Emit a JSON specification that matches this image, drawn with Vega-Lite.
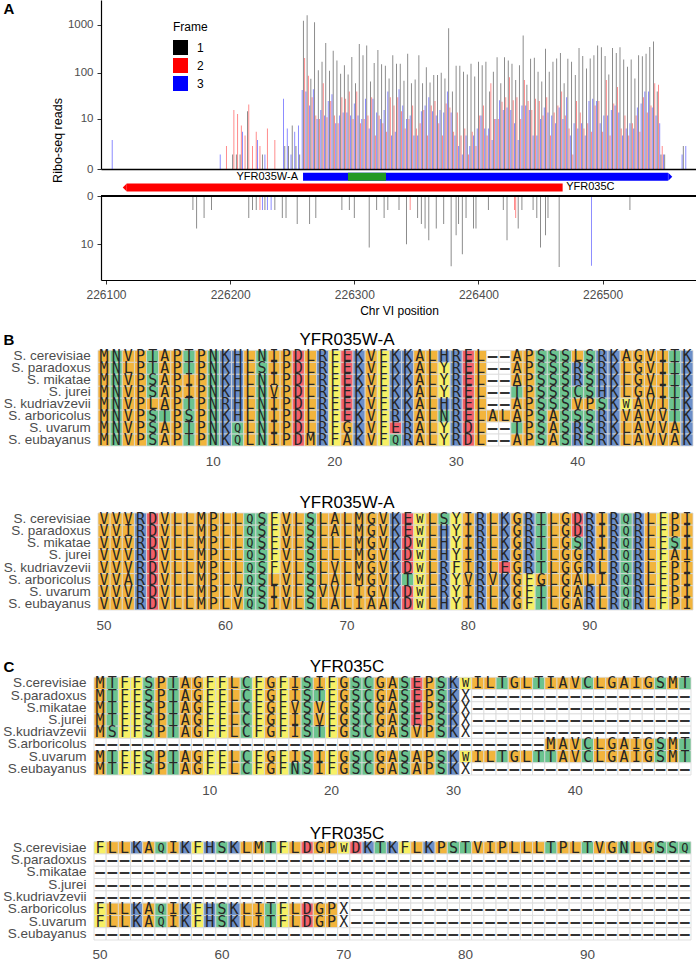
{
"$schema": "https://vega.github.io/schema/vega-lite/v6.json",
"padding": {"left": 2, "top": 0, "right": 0, "bottom": 0},
"background": "white",
"bounds": "flush",
"spacing": 0,
"resolve": {"scale": {"color": "independent", "fill": "independent", "shape": "independent", "size": "independent"}, "legend": {"color": "independent"}},
"config": {"view": {"stroke": null}, "font": "Liberation Sans", "axis": {"grid": false, "labelFont": "Liberation Sans", "titleFont": "Liberation Sans", "titleFontWeight": "normal"}},
"data": {"values": "g,s,p,a\n1,1,1,M\n1,1,2,N\n1,1,3,V\n1,1,4,P\n1,1,5,T\n1,1,6,A\n1,1,7,P\n1,1,8,T\n1,1,9,P\n1,1,10,N\n1,1,11,K\n1,1,12,H\n1,1,13,L\n1,1,14,N\n1,1,15,I\n1,1,16,P\n1,1,17,D\n1,1,18,L\n1,1,19,R\n1,1,20,F\n1,1,21,E\n1,1,22,K\n1,1,23,V\n1,1,24,F\n1,1,25,K\n1,1,26,K\n1,1,27,A\n1,1,28,L\n1,1,29,H\n1,1,30,R\n1,1,31,E\n1,1,32,L\n1,1,33,-\n1,1,34,-\n1,1,35,A\n1,1,36,P\n1,1,37,S\n1,1,38,S\n1,1,39,S\n1,1,40,L\n1,1,41,S\n1,1,42,R\n1,1,43,K\n1,1,44,A\n1,1,45,G\n1,1,46,V\n1,1,47,I\n1,1,48,T\n1,1,49,K\n1,2,1,M\n1,2,2,N\n1,2,3,L\n1,2,4,P\n1,2,5,T\n1,2,6,A\n1,2,7,P\n1,2,8,T\n1,2,9,P\n1,2,10,N\n1,2,11,K\n1,2,12,H\n1,2,13,L\n1,2,14,S\n1,2,15,I\n1,2,16,P\n1,2,17,D\n1,2,18,L\n1,2,19,R\n1,2,20,F\n1,2,21,E\n1,2,22,K\n1,2,23,V\n1,2,24,F\n1,2,25,K\n1,2,26,K\n1,2,27,A\n1,2,28,L\n1,2,29,Y\n1,2,30,R\n1,2,31,E\n1,2,32,L\n1,2,33,-\n1,2,34,-\n1,2,35,A\n1,2,36,P\n1,2,37,S\n1,2,38,S\n1,2,39,S\n1,2,40,R\n1,2,41,S\n1,2,42,R\n1,2,43,K\n1,2,44,L\n1,2,45,G\n1,2,46,V\n1,2,47,I\n1,2,48,T\n1,2,49,K\n1,3,1,M\n1,3,2,N\n1,3,3,V\n1,3,4,P\n1,3,5,S\n1,3,6,A\n1,3,7,P\n1,3,8,I\n1,3,9,P\n1,3,10,N\n1,3,11,K\n1,3,12,H\n1,3,13,L\n1,3,14,N\n1,3,15,I\n1,3,16,P\n1,3,17,D\n1,3,18,L\n1,3,19,R\n1,3,20,F\n1,3,21,E\n1,3,22,K\n1,3,23,V\n1,3,24,F\n1,3,25,K\n1,3,26,K\n1,3,27,A\n1,3,28,L\n1,3,29,Y\n1,3,30,R\n1,3,31,E\n1,3,32,L\n1,3,33,-\n1,3,34,-\n1,3,35,A\n1,3,36,P\n1,3,37,S\n1,3,38,S\n1,3,39,S\n1,3,40,R\n1,3,41,S\n1,3,42,R\n1,3,43,K\n1,3,44,L\n1,3,45,G\n1,3,46,V\n1,3,47,I\n1,3,48,T\n1,3,49,K\n1,4,1,M\n1,4,2,N\n1,4,3,V\n1,4,4,P\n1,4,5,S\n1,4,6,A\n1,4,7,P\n1,4,8,I\n1,4,9,P\n1,4,10,N\n1,4,11,K\n1,4,12,H\n1,4,13,L\n1,4,14,N\n1,4,15,V\n1,4,16,P\n1,4,17,D\n1,4,18,L\n1,4,19,R\n1,4,20,F\n1,4,21,E\n1,4,22,K\n1,4,23,V\n1,4,24,F\n1,4,25,K\n1,4,26,K\n1,4,27,A\n1,4,28,L\n1,4,29,Y\n1,4,30,R\n1,4,31,E\n1,4,32,L\n1,4,33,-\n1,4,34,-\n1,4,35,T\n1,4,36,P\n1,4,37,S\n1,4,38,S\n1,4,39,S\n1,4,40,C\n1,4,41,S\n1,4,42,H\n1,4,43,K\n1,4,44,L\n1,4,45,G\n1,4,46,A\n1,4,47,I\n1,4,48,T\n1,4,49,K\n1,5,1,M\n1,5,2,N\n1,5,3,V\n1,5,4,P\n1,5,5,L\n1,5,6,A\n1,5,7,P\n1,5,8,T\n1,5,9,P\n1,5,10,N\n1,5,11,R\n1,5,12,H\n1,5,13,L\n1,5,14,N\n1,5,15,I\n1,5,16,P\n1,5,17,D\n1,5,18,L\n1,5,19,R\n1,5,20,F\n1,5,21,E\n1,5,22,K\n1,5,23,V\n1,5,24,F\n1,5,25,K\n1,5,26,K\n1,5,27,A\n1,5,28,L\n1,5,29,H\n1,5,30,R\n1,5,31,E\n1,5,32,L\n1,5,33,-\n1,5,34,-\n1,5,35,A\n1,5,36,P\n1,5,37,S\n1,5,38,S\n1,5,39,S\n1,5,40,V\n1,5,41,P\n1,5,42,S\n1,5,43,K\n1,5,44,W\n1,5,45,A\n1,5,46,V\n1,5,47,I\n1,5,48,T\n1,5,49,K\n1,6,1,M\n1,6,2,N\n1,6,3,V\n1,6,4,P\n1,6,5,S\n1,6,6,T\n1,6,7,P\n1,6,8,S\n1,6,9,P\n1,6,10,N\n1,6,11,K\n1,6,12,H\n1,6,13,L\n1,6,14,N\n1,6,15,I\n1,6,16,P\n1,6,17,D\n1,6,18,L\n1,6,19,R\n1,6,20,F\n1,6,21,E\n1,6,22,K\n1,6,23,V\n1,6,24,F\n1,6,25,R\n1,6,26,K\n1,6,27,A\n1,6,28,L\n1,6,29,N\n1,6,30,R\n1,6,31,E\n1,6,32,L\n1,6,33,A\n1,6,34,L\n1,6,35,A\n1,6,36,P\n1,6,37,S\n1,6,38,A\n1,6,39,S\n1,6,40,S\n1,6,41,S\n1,6,42,R\n1,6,43,K\n1,6,44,V\n1,6,45,A\n1,6,46,V\n1,6,47,V\n1,6,48,T\n1,6,49,K\n1,7,1,M\n1,7,2,N\n1,7,3,V\n1,7,4,P\n1,7,5,S\n1,7,6,A\n1,7,7,P\n1,7,8,T\n1,7,9,P\n1,7,10,N\n1,7,11,K\n1,7,12,Q\n1,7,13,L\n1,7,14,N\n1,7,15,I\n1,7,16,P\n1,7,17,D\n1,7,18,L\n1,7,19,R\n1,7,20,F\n1,7,21,G\n1,7,22,K\n1,7,23,V\n1,7,24,F\n1,7,25,E\n1,7,26,R\n1,7,27,A\n1,7,28,L\n1,7,29,Y\n1,7,30,R\n1,7,31,D\n1,7,32,L\n1,7,33,-\n1,7,34,-\n1,7,35,T\n1,7,36,P\n1,7,37,S\n1,7,38,A\n1,7,39,S\n1,7,40,R\n1,7,41,S\n1,7,42,R\n1,7,43,K\n1,7,44,L\n1,7,45,A\n1,7,46,V\n1,7,47,V\n1,7,48,A\n1,7,49,K\n1,8,1,M\n1,8,2,N\n1,8,3,V\n1,8,4,P\n1,8,5,S\n1,8,6,A\n1,8,7,P\n1,8,8,T\n1,8,9,P\n1,8,10,N\n1,8,11,K\n1,8,12,Q\n1,8,13,L\n1,8,14,N\n1,8,15,I\n1,8,16,P\n1,8,17,D\n1,8,18,M\n1,8,19,R\n1,8,20,F\n1,8,21,A\n1,8,22,K\n1,8,23,V\n1,8,24,F\n1,8,25,Q\n1,8,26,R\n1,8,27,A\n1,8,28,L\n1,8,29,Y\n1,8,30,R\n1,8,31,D\n1,8,32,L\n1,8,33,-\n1,8,34,-\n1,8,35,A\n1,8,36,P\n1,8,37,S\n1,8,38,A\n1,8,39,S\n1,8,40,R\n1,8,41,S\n1,8,42,R\n1,8,43,K\n1,8,44,L\n1,8,45,A\n1,8,46,V\n1,8,47,V\n1,8,48,A\n1,8,49,K\n2,1,50,V\n2,1,51,V\n2,1,52,V\n2,1,53,R\n2,1,54,D\n2,1,55,V\n2,1,56,L\n2,1,57,L\n2,1,58,M\n2,1,59,P\n2,1,60,L\n2,1,61,L\n2,1,62,Q\n2,1,63,S\n2,1,64,F\n2,1,65,V\n2,1,66,L\n2,1,67,S\n2,1,68,L\n2,1,69,A\n2,1,70,L\n2,1,71,M\n2,1,72,G\n2,1,73,V\n2,1,74,K\n2,1,75,E\n2,1,76,W\n2,1,77,L\n2,1,78,S\n2,1,79,Y\n2,1,80,I\n2,1,81,R\n2,1,82,L\n2,1,83,K\n2,1,84,G\n2,1,85,R\n2,1,86,T\n2,1,87,L\n2,1,88,G\n2,1,89,D\n2,1,90,R\n2,1,91,I\n2,1,92,R\n2,1,93,Q\n2,1,94,R\n2,1,95,L\n2,1,96,F\n2,1,97,P\n2,1,98,I\n2,2,50,V\n2,2,51,V\n2,2,52,I\n2,2,53,R\n2,2,54,D\n2,2,55,V\n2,2,56,L\n2,2,57,L\n2,2,58,M\n2,2,59,P\n2,2,60,L\n2,2,61,L\n2,2,62,Q\n2,2,63,S\n2,2,64,F\n2,2,65,V\n2,2,66,L\n2,2,67,S\n2,2,68,L\n2,2,69,A\n2,2,70,L\n2,2,71,M\n2,2,72,G\n2,2,73,V\n2,2,74,K\n2,2,75,E\n2,2,76,W\n2,2,77,L\n2,2,78,H\n2,2,79,Y\n2,2,80,I\n2,2,81,R\n2,2,82,L\n2,2,83,K\n2,2,84,G\n2,2,85,R\n2,2,86,T\n2,2,87,L\n2,2,88,G\n2,2,89,D\n2,2,90,R\n2,2,91,I\n2,2,92,R\n2,2,93,Q\n2,2,94,R\n2,2,95,L\n2,2,96,F\n2,2,97,P\n2,2,98,I\n2,3,50,V\n2,3,51,V\n2,3,52,V\n2,3,53,R\n2,3,54,D\n2,3,55,V\n2,3,56,L\n2,3,57,L\n2,3,58,M\n2,3,59,P\n2,3,60,L\n2,3,61,L\n2,3,62,Q\n2,3,63,S\n2,3,64,F\n2,3,65,V\n2,3,66,L\n2,3,67,S\n2,3,68,L\n2,3,69,L\n2,3,70,L\n2,3,71,M\n2,3,72,G\n2,3,73,V\n2,3,74,K\n2,3,75,D\n2,3,76,W\n2,3,77,L\n2,3,78,H\n2,3,79,Y\n2,3,80,I\n2,3,81,R\n2,3,82,L\n2,3,83,K\n2,3,84,G\n2,3,85,R\n2,3,86,T\n2,3,87,L\n2,3,88,G\n2,3,89,S\n2,3,90,R\n2,3,91,I\n2,3,92,R\n2,3,93,Q\n2,3,94,R\n2,3,95,L\n2,3,96,F\n2,3,97,S\n2,3,98,I\n2,4,50,V\n2,4,51,V\n2,4,52,V\n2,4,53,R\n2,4,54,D\n2,4,55,V\n2,4,56,L\n2,4,57,L\n2,4,58,M\n2,4,59,P\n2,4,60,L\n2,4,61,L\n2,4,62,Q\n2,4,63,S\n2,4,64,F\n2,4,65,V\n2,4,66,L\n2,4,67,S\n2,4,68,L\n2,4,69,L\n2,4,70,L\n2,4,71,M\n2,4,72,G\n2,4,73,V\n2,4,74,K\n2,4,75,D\n2,4,76,W\n2,4,77,L\n2,4,78,H\n2,4,79,Y\n2,4,80,I\n2,4,81,R\n2,4,82,L\n2,4,83,K\n2,4,84,G\n2,4,85,R\n2,4,86,T\n2,4,87,L\n2,4,88,G\n2,4,89,G\n2,4,90,R\n2,4,91,I\n2,4,92,R\n2,4,93,Q\n2,4,94,R\n2,4,95,L\n2,4,96,F\n2,4,97,A\n2,4,98,I\n2,5,50,V\n2,5,51,V\n2,5,52,V\n2,5,53,R\n2,5,54,D\n2,5,55,V\n2,5,56,L\n2,5,57,L\n2,5,58,M\n2,5,59,P\n2,5,60,L\n2,5,61,L\n2,5,62,Q\n2,5,63,S\n2,5,64,F\n2,5,65,V\n2,5,66,L\n2,5,67,S\n2,5,68,L\n2,5,69,V\n2,5,70,L\n2,5,71,M\n2,5,72,G\n2,5,73,V\n2,5,74,K\n2,5,75,D\n2,5,76,W\n2,5,77,L\n2,5,78,R\n2,5,79,F\n2,5,80,I\n2,5,81,R\n2,5,82,L\n2,5,83,E\n2,5,84,G\n2,5,85,R\n2,5,86,T\n2,5,87,L\n2,5,88,G\n2,5,89,G\n2,5,90,R\n2,5,91,L\n2,5,92,R\n2,5,93,Q\n2,5,94,R\n2,5,95,L\n2,5,96,F\n2,5,97,P\n2,5,98,I\n2,6,50,V\n2,6,51,V\n2,6,52,A\n2,6,53,R\n2,6,54,D\n2,6,55,V\n2,6,56,L\n2,6,57,L\n2,6,58,M\n2,6,59,P\n2,6,60,L\n2,6,61,L\n2,6,62,Q\n2,6,63,S\n2,6,64,L\n2,6,65,V\n2,6,66,L\n2,6,67,S\n2,6,68,L\n2,6,69,A\n2,6,70,L\n2,6,71,M\n2,6,72,G\n2,6,73,V\n2,6,74,K\n2,6,75,T\n2,6,76,W\n2,6,77,L\n2,6,78,R\n2,6,79,Y\n2,6,80,V\n2,6,81,R\n2,6,82,V\n2,6,83,K\n2,6,84,G\n2,6,85,F\n2,6,86,G\n2,6,87,L\n2,6,88,G\n2,6,89,A\n2,6,90,L\n2,6,91,I\n2,6,92,R\n2,6,93,Q\n2,6,94,R\n2,6,95,L\n2,6,96,F\n2,6,97,P\n2,6,98,I\n2,7,50,V\n2,7,51,V\n2,7,52,V\n2,7,53,R\n2,7,54,D\n2,7,55,V\n2,7,56,L\n2,7,57,L\n2,7,58,M\n2,7,59,P\n2,7,60,L\n2,7,61,V\n2,7,62,Q\n2,7,63,S\n2,7,64,I\n2,7,65,V\n2,7,66,L\n2,7,67,S\n2,7,68,V\n2,7,69,V\n2,7,70,L\n2,7,71,I\n2,7,72,G\n2,7,73,V\n2,7,74,K\n2,7,75,D\n2,7,76,W\n2,7,77,L\n2,7,78,R\n2,7,79,Y\n2,7,80,I\n2,7,81,R\n2,7,82,L\n2,7,83,K\n2,7,84,G\n2,7,85,F\n2,7,86,T\n2,7,87,L\n2,7,88,G\n2,7,89,A\n2,7,90,R\n2,7,91,L\n2,7,92,R\n2,7,93,Q\n2,7,94,R\n2,7,95,L\n2,7,96,F\n2,7,97,P\n2,7,98,I\n2,8,50,V\n2,8,51,V\n2,8,52,V\n2,8,53,R\n2,8,54,D\n2,8,55,V\n2,8,56,L\n2,8,57,L\n2,8,58,M\n2,8,59,P\n2,8,60,L\n2,8,61,V\n2,8,62,Q\n2,8,63,S\n2,8,64,I\n2,8,65,V\n2,8,66,L\n2,8,67,S\n2,8,68,L\n2,8,69,A\n2,8,70,L\n2,8,71,I\n2,8,72,A\n2,8,73,A\n2,8,74,K\n2,8,75,D\n2,8,76,W\n2,8,77,L\n2,8,78,H\n2,8,79,Y\n2,8,80,I\n2,8,81,R\n2,8,82,L\n2,8,83,K\n2,8,84,G\n2,8,85,F\n2,8,86,T\n2,8,87,L\n2,8,88,G\n2,8,89,A\n2,8,90,R\n2,8,91,L\n2,8,92,R\n2,8,93,Q\n2,8,94,R\n2,8,95,L\n2,8,96,F\n2,8,97,P\n2,8,98,I\n3,1,1,M\n3,1,2,T\n3,1,3,F\n3,1,4,F\n3,1,5,S\n3,1,6,P\n3,1,7,T\n3,1,8,A\n3,1,9,G\n3,1,10,F\n3,1,11,F\n3,1,12,L\n3,1,13,C\n3,1,14,F\n3,1,15,G\n3,1,16,F\n3,1,17,I\n3,1,18,S\n3,1,19,I\n3,1,20,F\n3,1,21,G\n3,1,22,S\n3,1,23,C\n3,1,24,G\n3,1,25,A\n3,1,26,S\n3,1,27,E\n3,1,28,P\n3,1,29,S\n3,1,30,K\n3,1,31,W\n3,1,32,I\n3,1,33,L\n3,1,34,T\n3,1,35,G\n3,1,36,L\n3,1,37,T\n3,1,38,I\n3,1,39,A\n3,1,40,V\n3,1,41,C\n3,1,42,L\n3,1,43,G\n3,1,44,A\n3,1,45,I\n3,1,46,G\n3,1,47,S\n3,1,48,M\n3,1,49,T\n3,2,1,M\n3,2,2,T\n3,2,3,F\n3,2,4,F\n3,2,5,S\n3,2,6,P\n3,2,7,T\n3,2,8,A\n3,2,9,G\n3,2,10,F\n3,2,11,F\n3,2,12,L\n3,2,13,C\n3,2,14,F\n3,2,15,G\n3,2,16,F\n3,2,17,I\n3,2,18,S\n3,2,19,T\n3,2,20,F\n3,2,21,G\n3,2,22,S\n3,2,23,C\n3,2,24,G\n3,2,25,A\n3,2,26,S\n3,2,27,E\n3,2,28,P\n3,2,29,S\n3,2,30,K\n3,2,31,X\n3,2,32,-\n3,2,33,-\n3,2,34,-\n3,2,35,-\n3,2,36,-\n3,2,37,-\n3,2,38,-\n3,2,39,-\n3,2,40,-\n3,2,41,-\n3,2,42,-\n3,2,43,-\n3,2,44,-\n3,2,45,-\n3,2,46,-\n3,2,47,-\n3,2,48,-\n3,2,49,-\n3,3,1,M\n3,3,2,T\n3,3,3,F\n3,3,4,F\n3,3,5,S\n3,3,6,P\n3,3,7,T\n3,3,8,A\n3,3,9,G\n3,3,10,F\n3,3,11,F\n3,3,12,L\n3,3,13,C\n3,3,14,F\n3,3,15,G\n3,3,16,F\n3,3,17,V\n3,3,18,S\n3,3,19,V\n3,3,20,F\n3,3,21,G\n3,3,22,S\n3,3,23,C\n3,3,24,G\n3,3,25,A\n3,3,26,S\n3,3,27,E\n3,3,28,P\n3,3,29,S\n3,3,30,K\n3,3,31,X\n3,3,32,-\n3,3,33,-\n3,3,34,-\n3,3,35,-\n3,3,36,-\n3,3,37,-\n3,3,38,-\n3,3,39,-\n3,3,40,-\n3,3,41,-\n3,3,42,-\n3,3,43,-\n3,3,44,-\n3,3,45,-\n3,3,46,-\n3,3,47,-\n3,3,48,-\n3,3,49,-\n3,4,1,M\n3,4,2,T\n3,4,3,F\n3,4,4,F\n3,4,5,S\n3,4,6,P\n3,4,7,T\n3,4,8,A\n3,4,9,G\n3,4,10,F\n3,4,11,F\n3,4,12,L\n3,4,13,C\n3,4,14,F\n3,4,15,G\n3,4,16,F\n3,4,17,I\n3,4,18,S\n3,4,19,V\n3,4,20,F\n3,4,21,G\n3,4,22,S\n3,4,23,C\n3,4,24,G\n3,4,25,A\n3,4,26,S\n3,4,27,E\n3,4,28,P\n3,4,29,S\n3,4,30,K\n3,4,31,X\n3,4,32,-\n3,4,33,-\n3,4,34,-\n3,4,35,-\n3,4,36,-\n3,4,37,-\n3,4,38,-\n3,4,39,-\n3,4,40,-\n3,4,41,-\n3,4,42,-\n3,4,43,-\n3,4,44,-\n3,4,45,-\n3,4,46,-\n3,4,47,-\n3,4,48,-\n3,4,49,-\n3,5,1,M\n3,5,2,S\n3,5,3,F\n3,5,4,F\n3,5,5,S\n3,5,6,P\n3,5,7,T\n3,5,8,A\n3,5,9,G\n3,5,10,F\n3,5,11,F\n3,5,12,L\n3,5,13,C\n3,5,14,F\n3,5,15,G\n3,5,16,F\n3,5,17,I\n3,5,18,S\n3,5,19,T\n3,5,20,F\n3,5,21,G\n3,5,22,S\n3,5,23,C\n3,5,24,G\n3,5,25,A\n3,5,26,S\n3,5,27,V\n3,5,28,P\n3,5,29,S\n3,5,30,K\n3,5,31,X\n3,5,32,-\n3,5,33,-\n3,5,34,-\n3,5,35,-\n3,5,36,-\n3,5,37,-\n3,5,38,-\n3,5,39,-\n3,5,40,-\n3,5,41,-\n3,5,42,-\n3,5,43,-\n3,5,44,-\n3,5,45,-\n3,5,46,-\n3,5,47,-\n3,5,48,-\n3,5,49,-\n3,6,1,-\n3,6,2,-\n3,6,3,-\n3,6,4,-\n3,6,5,-\n3,6,6,-\n3,6,7,-\n3,6,8,-\n3,6,9,-\n3,6,10,-\n3,6,11,-\n3,6,12,-\n3,6,13,-\n3,6,14,-\n3,6,15,-\n3,6,16,-\n3,6,17,-\n3,6,18,-\n3,6,19,-\n3,6,20,-\n3,6,21,-\n3,6,22,-\n3,6,23,-\n3,6,24,-\n3,6,25,-\n3,6,26,-\n3,6,27,-\n3,6,28,-\n3,6,29,-\n3,6,30,-\n3,6,31,-\n3,6,32,-\n3,6,33,-\n3,6,34,-\n3,6,35,-\n3,6,36,-\n3,6,37,-\n3,6,38,M\n3,6,39,A\n3,6,40,V\n3,6,41,C\n3,6,42,L\n3,6,43,G\n3,6,44,A\n3,6,45,I\n3,6,46,G\n3,6,47,S\n3,6,48,M\n3,6,49,T\n3,7,1,M\n3,7,2,T\n3,7,3,F\n3,7,4,F\n3,7,5,S\n3,7,6,P\n3,7,7,T\n3,7,8,A\n3,7,9,G\n3,7,10,F\n3,7,11,F\n3,7,12,L\n3,7,13,C\n3,7,14,F\n3,7,15,G\n3,7,16,F\n3,7,17,I\n3,7,18,S\n3,7,19,I\n3,7,20,F\n3,7,21,G\n3,7,22,S\n3,7,23,C\n3,7,24,G\n3,7,25,A\n3,7,26,S\n3,7,27,A\n3,7,28,P\n3,7,29,S\n3,7,30,K\n3,7,31,W\n3,7,32,I\n3,7,33,L\n3,7,34,T\n3,7,35,G\n3,7,36,L\n3,7,37,T\n3,7,38,T\n3,7,39,A\n3,7,40,V\n3,7,41,C\n3,7,42,L\n3,7,43,G\n3,7,44,A\n3,7,45,I\n3,7,46,G\n3,7,47,S\n3,7,48,M\n3,7,49,T\n3,8,1,M\n3,8,2,T\n3,8,3,F\n3,8,4,F\n3,8,5,S\n3,8,6,P\n3,8,7,T\n3,8,8,A\n3,8,9,G\n3,8,10,F\n3,8,11,F\n3,8,12,L\n3,8,13,C\n3,8,14,F\n3,8,15,G\n3,8,16,F\n3,8,17,N\n3,8,18,S\n3,8,19,I\n3,8,20,F\n3,8,21,G\n3,8,22,S\n3,8,23,C\n3,8,24,G\n3,8,25,A\n3,8,26,S\n3,8,27,A\n3,8,28,P\n3,8,29,S\n3,8,30,K\n3,8,31,X\n3,8,32,-\n3,8,33,-\n3,8,34,-\n3,8,35,-\n3,8,36,-\n3,8,37,-\n3,8,38,-\n3,8,39,-\n3,8,40,-\n3,8,41,-\n3,8,42,-\n3,8,43,-\n3,8,44,-\n3,8,45,-\n3,8,46,-\n3,8,47,-\n3,8,48,-\n3,8,49,-\n4,1,50,F\n4,1,51,L\n4,1,52,L\n4,1,53,K\n4,1,54,A\n4,1,55,Q\n4,1,56,I\n4,1,57,K\n4,1,58,F\n4,1,59,H\n4,1,60,S\n4,1,61,K\n4,1,62,L\n4,1,63,M\n4,1,64,T\n4,1,65,F\n4,1,66,L\n4,1,67,D\n4,1,68,G\n4,1,69,P\n4,1,70,W\n4,1,71,D\n4,1,72,K\n4,1,73,T\n4,1,74,K\n4,1,75,F\n4,1,76,L\n4,1,77,K\n4,1,78,P\n4,1,79,S\n4,1,80,T\n4,1,81,V\n4,1,82,I\n4,1,83,P\n4,1,84,L\n4,1,85,L\n4,1,86,L\n4,1,87,T\n4,1,88,P\n4,1,89,L\n4,1,90,T\n4,1,91,V\n4,1,92,G\n4,1,93,N\n4,1,94,L\n4,1,95,G\n4,1,96,S\n4,1,97,S\n4,1,98,Q\n4,2,50,-\n4,2,51,-\n4,2,52,-\n4,2,53,-\n4,2,54,-\n4,2,55,-\n4,2,56,-\n4,2,57,-\n4,2,58,-\n4,2,59,-\n4,2,60,-\n4,2,61,-\n4,2,62,-\n4,2,63,-\n4,2,64,-\n4,2,65,-\n4,2,66,-\n4,2,67,-\n4,2,68,-\n4,2,69,-\n4,2,70,-\n4,2,71,-\n4,2,72,-\n4,2,73,-\n4,2,74,-\n4,2,75,-\n4,2,76,-\n4,2,77,-\n4,2,78,-\n4,2,79,-\n4,2,80,-\n4,2,81,-\n4,2,82,-\n4,2,83,-\n4,2,84,-\n4,2,85,-\n4,2,86,-\n4,2,87,-\n4,2,88,-\n4,2,89,-\n4,2,90,-\n4,2,91,-\n4,2,92,-\n4,2,93,-\n4,2,94,-\n4,2,95,-\n4,2,96,-\n4,2,97,-\n4,2,98,-\n4,3,50,-\n4,3,51,-\n4,3,52,-\n4,3,53,-\n4,3,54,-\n4,3,55,-\n4,3,56,-\n4,3,57,-\n4,3,58,-\n4,3,59,-\n4,3,60,-\n4,3,61,-\n4,3,62,-\n4,3,63,-\n4,3,64,-\n4,3,65,-\n4,3,66,-\n4,3,67,-\n4,3,68,-\n4,3,69,-\n4,3,70,-\n4,3,71,-\n4,3,72,-\n4,3,73,-\n4,3,74,-\n4,3,75,-\n4,3,76,-\n4,3,77,-\n4,3,78,-\n4,3,79,-\n4,3,80,-\n4,3,81,-\n4,3,82,-\n4,3,83,-\n4,3,84,-\n4,3,85,-\n4,3,86,-\n4,3,87,-\n4,3,88,-\n4,3,89,-\n4,3,90,-\n4,3,91,-\n4,3,92,-\n4,3,93,-\n4,3,94,-\n4,3,95,-\n4,3,96,-\n4,3,97,-\n4,3,98,-\n4,4,50,-\n4,4,51,-\n4,4,52,-\n4,4,53,-\n4,4,54,-\n4,4,55,-\n4,4,56,-\n4,4,57,-\n4,4,58,-\n4,4,59,-\n4,4,60,-\n4,4,61,-\n4,4,62,-\n4,4,63,-\n4,4,64,-\n4,4,65,-\n4,4,66,-\n4,4,67,-\n4,4,68,-\n4,4,69,-\n4,4,70,-\n4,4,71,-\n4,4,72,-\n4,4,73,-\n4,4,74,-\n4,4,75,-\n4,4,76,-\n4,4,77,-\n4,4,78,-\n4,4,79,-\n4,4,80,-\n4,4,81,-\n4,4,82,-\n4,4,83,-\n4,4,84,-\n4,4,85,-\n4,4,86,-\n4,4,87,-\n4,4,88,-\n4,4,89,-\n4,4,90,-\n4,4,91,-\n4,4,92,-\n4,4,93,-\n4,4,94,-\n4,4,95,-\n4,4,96,-\n4,4,97,-\n4,4,98,-\n4,5,50,-\n4,5,51,-\n4,5,52,-\n4,5,53,-\n4,5,54,-\n4,5,55,-\n4,5,56,-\n4,5,57,-\n4,5,58,-\n4,5,59,-\n4,5,60,-\n4,5,61,-\n4,5,62,-\n4,5,63,-\n4,5,64,-\n4,5,65,-\n4,5,66,-\n4,5,67,-\n4,5,68,-\n4,5,69,-\n4,5,70,-\n4,5,71,-\n4,5,72,-\n4,5,73,-\n4,5,74,-\n4,5,75,-\n4,5,76,-\n4,5,77,-\n4,5,78,-\n4,5,79,-\n4,5,80,-\n4,5,81,-\n4,5,82,-\n4,5,83,-\n4,5,84,-\n4,5,85,-\n4,5,86,-\n4,5,87,-\n4,5,88,-\n4,5,89,-\n4,5,90,-\n4,5,91,-\n4,5,92,-\n4,5,93,-\n4,5,94,-\n4,5,95,-\n4,5,96,-\n4,5,97,-\n4,5,98,-\n4,6,50,F\n4,6,51,L\n4,6,52,L\n4,6,53,K\n4,6,54,A\n4,6,55,Q\n4,6,56,I\n4,6,57,K\n4,6,58,F\n4,6,59,H\n4,6,60,S\n4,6,61,K\n4,6,62,L\n4,6,63,I\n4,6,64,T\n4,6,65,F\n4,6,66,L\n4,6,67,D\n4,6,68,G\n4,6,69,P\n4,6,70,X\n4,6,71,-\n4,6,72,-\n4,6,73,-\n4,6,74,-\n4,6,75,-\n4,6,76,-\n4,6,77,-\n4,6,78,-\n4,6,79,-\n4,6,80,-\n4,6,81,-\n4,6,82,-\n4,6,83,-\n4,6,84,-\n4,6,85,-\n4,6,86,-\n4,6,87,-\n4,6,88,-\n4,6,89,-\n4,6,90,-\n4,6,91,-\n4,6,92,-\n4,6,93,-\n4,6,94,-\n4,6,95,-\n4,6,96,-\n4,6,97,-\n4,6,98,-\n4,7,50,F\n4,7,51,L\n4,7,52,L\n4,7,53,K\n4,7,54,A\n4,7,55,Q\n4,7,56,I\n4,7,57,K\n4,7,58,F\n4,7,59,H\n4,7,60,S\n4,7,61,K\n4,7,62,L\n4,7,63,I\n4,7,64,T\n4,7,65,F\n4,7,66,L\n4,7,67,D\n4,7,68,G\n4,7,69,P\n4,7,70,X\n4,7,71,-\n4,7,72,-\n4,7,73,-\n4,7,74,-\n4,7,75,-\n4,7,76,-\n4,7,77,-\n4,7,78,-\n4,7,79,-\n4,7,80,-\n4,7,81,-\n4,7,82,-\n4,7,83,-\n4,7,84,-\n4,7,85,-\n4,7,86,-\n4,7,87,-\n4,7,88,-\n4,7,89,-\n4,7,90,-\n4,7,91,-\n4,7,92,-\n4,7,93,-\n4,7,94,-\n4,7,95,-\n4,7,96,-\n4,7,97,-\n4,7,98,-\n4,8,50,-\n4,8,51,-\n4,8,52,-\n4,8,53,-\n4,8,54,-\n4,8,55,-\n4,8,56,-\n4,8,57,-\n4,8,58,-\n4,8,59,-\n4,8,60,-\n4,8,61,-\n4,8,62,-\n4,8,63,-\n4,8,64,-\n4,8,65,-\n4,8,66,-\n4,8,67,-\n4,8,68,-\n4,8,69,-\n4,8,70,-\n4,8,71,-\n4,8,72,-\n4,8,73,-\n4,8,74,-\n4,8,75,-\n4,8,76,-\n4,8,77,-\n4,8,78,-\n4,8,79,-\n4,8,80,-\n4,8,81,-\n4,8,82,-\n4,8,83,-\n4,8,84,-\n4,8,85,-\n4,8,86,-\n4,8,87,-\n4,8,88,-\n4,8,89,-\n4,8,90,-\n4,8,91,-\n4,8,92,-\n4,8,93,-\n4,8,94,-\n4,8,95,-\n4,8,96,-\n4,8,97,-\n4,8,98,-", "format": {"type": "csv", "parse": {"g": "number", "s": "number", "p": "number"}}},
"vconcat": [
{
"width": 596, "height": 169,
"data": {"values": "p,r,f\n226105,3,3\n226192,1,3\n226197,2,2\n226202,1,1\n226203,16,2\n226205,1,1\n226206,13,2\n226208,1,1\n226209,7,2\n226210,5,3\n226212,4,2\n226214,15,1\n226215,21,2\n226218,2,2\n226221,5,2\n226222,3,3\n226224,2,2\n226226,1,1\n226228,1,3\n226230,6,2\n226236,3,2\n226243,28,3\n226244,2,1\n226246,6,3\n226247,2,1\n226249,1,3\n226250,7,1\n226252,5,3\n226253,2,1\n226255,7,3\n226256,1,1\n226258,43,3\n226259,1220,1\n226260,203,2\n226261,40,3\n226262,1590,1\n226263,86,2\n226264,20,3\n226265,75,1\n226266,30,2\n226267,45,3\n226268,1130,1\n226269,12,2\n226270,10,3\n226271,113,1\n226272,10,2\n226273,16,3\n226274,170,1\n226275,60,2\n226276,12,3\n226277,420,1\n226278,11,2\n226279,25,3\n226280,110,1\n226281,25,2\n226282,35,3\n226283,290,1\n226284,12,2\n226285,8,3\n226286,180,1\n226287,8,2\n226288,12,3\n226289,95,1\n226290,30,2\n226291,14,3\n226292,144,1\n226293,28,2\n226294,14,3\n226295,92,1\n226296,40,2\n226297,12,3\n226298,214,1\n226299,10,2\n226300,22,3\n226301,60,1\n226302,40,2\n226303,12,3\n226304,400,1\n226305,8,2\n226306,10,3\n226307,232,1\n226308,10,2\n226309,28,3\n226310,372,1\n226311,12,2\n226312,6,3\n226313,65,1\n226314,30,2\n226315,28,3\n226316,160,1\n226317,4,2\n226318,14,3\n226319,300,1\n226320,12,2\n226321,10,3\n226322,150,1\n226323,8,2\n226324,16,3\n226325,140,1\n226326,5,2\n226327,40,3\n226328,76,1\n226329,30,2\n226330,4,3\n226331,232,1\n226332,20,2\n226333,5,3\n226334,155,1\n226335,30,2\n226336,45,3\n226337,155,1\n226338,15,2\n226339,20,3\n226340,68,1\n226341,6,2\n226342,10,3\n226343,250,1\n226344,10,2\n226345,12,3\n226346,60,1\n226347,20,2\n226348,4,3\n226349,72,1\n226350,6,2\n226351,4,3\n226352,232,1\n226353,8,2\n226354,15,3\n226355,60,1\n226356,16,2\n226357,20,3\n226358,130,1\n226359,4,2\n226360,30,3\n226361,62,1\n226362,20,2\n226363,15,3\n226364,90,1\n226365,25,2\n226366,12,3\n226367,90,1\n226368,8,2\n226369,16,3\n226370,100,1\n226371,4,2\n226372,14,3\n226373,76,1\n226374,22,2\n226375,40,3\n226376,850,1\n226377,18,2\n226378,14,3\n226379,40,1\n226380,5,2\n226381,4,3\n226382,140,1\n226383,14,2\n226384,2,3\n226385,140,1\n226386,4,2\n226387,1,3\n226388,105,1\n226389,6,2\n226390,4,3\n226391,92,1\n226392,1,2\n226393,2,3\n226394,155,1\n226395,5,2\n226396,4,3\n226397,83,1\n226398,2,2\n226399,6,3\n226400,169,1\n226401,12,2\n226402,12,3\n226403,144,1\n226404,20,2\n226405,6,3\n226406,169,1\n226407,4,2\n226408,6,3\n226409,40,1\n226410,60,2\n226411,3,3\n226412,105,1\n226413,10,2\n226414,10,3\n226415,210,1\n226416,10,2\n226417,26,3\n226418,60,1\n226419,24,2\n226420,16,3\n226421,210,1\n226422,30,2\n226423,18,3\n226424,180,1\n226425,80,2\n226426,16,3\n226427,155,1\n226428,26,2\n226429,8,3\n226430,70,1\n226431,30,2\n226432,3,3\n226433,144,1\n226434,10,2\n226435,20,3\n226436,600,1\n226437,70,2\n226438,20,3\n226439,56,1\n226440,25,2\n226441,16,3\n226442,197,1\n226443,16,2\n226444,4,3\n226445,205,1\n226446,28,2\n226447,4,3\n226448,105,1\n226449,25,2\n226450,10,3\n226451,65,1\n226452,12,2\n226453,18,3\n226454,317,1\n226455,30,2\n226456,14,3\n226457,105,1\n226458,4,2\n226459,12,3\n226460,169,1\n226461,14,2\n226462,8,3\n226463,200,1\n226464,20,2\n226465,18,3\n226466,260,1\n226467,40,2\n226468,10,3\n226469,60,1\n226470,12,2\n226471,30,3\n226472,197,1\n226473,6,2\n226474,4,3\n226475,169,1\n226476,1,2\n226477,8,3\n226478,90,1\n226479,25,2\n226480,6,3\n226481,330,1\n226482,14,2\n226483,8,3\n226484,225,1\n226485,6,2\n226486,4,3\n226487,123,1\n226488,8,2\n226489,25,3\n226490,200,1\n226491,5,2\n226492,28,3\n226493,232,1\n226494,20,2\n226495,25,3\n226496,372,1\n226497,25,2\n226498,8,3\n226499,340,1\n226500,5,2\n226501,12,3\n226502,225,1\n226503,70,2\n226504,12,3\n226505,92,1\n226506,4,2\n226507,16,3\n226508,330,1\n226509,22,2\n226510,20,3\n226511,260,1\n226512,50,2\n226513,14,3\n226514,340,1\n226515,6,2\n226516,4,3\n226517,190,1\n226518,12,2\n226519,6,3\n226520,133,1\n226521,4,2\n226522,8,3\n226523,190,1\n226524,8,2\n226525,6,3\n226526,76,1\n226527,12,2\n226528,18,3\n226529,232,1\n226530,5,2\n226531,22,3\n226532,222,1\n226533,30,2\n226534,40,3\n226535,250,1\n226536,14,2\n226537,40,3\n226538,345,1\n226539,20,2\n226540,18,3\n226541,450,1\n226542,60,2\n226543,12,3\n226544,40,1\n226545,56,2\n226546,8,3\n226547,1,1\n226548,2,2\n226549,1,3\n226550,1,1\n226564,1,3\n226565,2,1\n226567,2,3", "format": {"type": "csv", "parse": {"p": "number", "r": "number", "f": "string"}}},
"mark": {"type": "bar", "width": 0.9, "opacity": 0.5, "orient": "vertical"},
"encoding": {
"x": {"field": "p", "type": "quantitative", "scale": {"domain": [226100, 226572], "nice": false, "zero": false}, "axis": {"labels": false, "ticks": false, "domainColor": "black", "domainWidth": 1.5, "title": "A", "titleX": -98, "titleY": -155.7, "titleAngle": 0, "titleAlign": "left", "titleBaseline": "alphabetic", "titleFontSize": 15, "titleFontWeight": "bold", "titleColor": "black"}},
"y": {"field": "r", "type": "quantitative", "scale": {"type": "symlog", "constant": 1, "domain": [0, 3300], "nice": false}, "axis": {"values": [0, 10, 100, 1000], "format": "d", "labelFontSize": 11.5, "labelColor": "#4d4d4d", "labelPadding": 4, "tickSize": 4, "tickColor": "#333333", "domainColor": "black", "domainWidth": 1.2, "title": "Ribo-seq reads", "titleFontSize": 12.5, "titleColor": "black", "titleX": -40, "titleY": 140, "titleAngle": 270, "titleAlign": "center", "titleBaseline": "alphabetic"}},
"color": {"field": "f", "type": "nominal", "scale": {"domain": ["1", "2", "3"], "range": ["#000000", "#ff0000", "#0000ff"]}, "legend": {"title": "Frame", "orient": "none", "legendX": 72, "legendY": 22, "padding": 0, "symbolType": "square", "symbolSize": 225, "symbolOpacity": 1, "symbolStrokeWidth": 0, "labelFontSize": 12, "labelColor": "black", "labelOffset": 9, "titleFontSize": 12, "titleFontWeight": "normal", "titleColor": "black", "titlePadding": 6, "rowPadding": 3}}
}
},
{
"width": 596, "height": 27,
"layer": [
{"data": {"values": [{"part": "YFR035W-A", "start": 226260, "end": 226549, "lane": 1}, {"part": "overlap", "start": 226295.6, "end": 226325.7, "lane": 1}, {"part": "YFR035C", "start": 226120.4, "end": 226465.6, "lane": 2}]},
"mark": {"type": "rule", "strokeWidth": 8, "strokeCap": "butt"},
"encoding": {
"x": {"field": "start", "type": "quantitative", "scale": {"domain": [226100, 226572], "nice": false, "zero": false}, "axis": null},
"x2": {"field": "end"},
"y": {"field": "lane", "type": "quantitative", "scale": {"domain": [0.29, 2.79], "reverse": true, "nice": false, "zero": false}, "axis": null},
"color": {"field": "part", "type": "nominal", "scale": {"domain": ["YFR035W-A", "overlap", "YFR035C"], "range": ["#0000ff", "#229922", "#ff0000"]}, "legend": null}}},
{"data": {"values": [{"part": "YFR035W-A", "tip": 226550.8, "lane": 1, "dir": "right"}, {"part": "YFR035C", "tip": 226118.8, "lane": 2, "dir": "left"}]},
"mark": {"type": "point", "filled": true, "size": 64, "opacity": 1, "strokeWidth": 0},
"encoding": {
"x": {"field": "tip", "type": "quantitative"},
"y": {"field": "lane", "type": "quantitative"},
"color": {"field": "part", "type": "nominal"},
"shape": {"field": "dir", "type": "nominal", "scale": {"domain": ["right", "left"], "range": ["M-0.5,-1L0.5,0L-0.5,1Z", "M0.5,-1L-0.5,0L0.5,1Z"]}, "legend": null}}},
{"data": {"values": [{"label": "YFR035W-A", "at": 226260, "lane": 1}]},
"mark": {"type": "text", "align": "right", "dx": -5, "fontSize": 11, "baseline": "middle", "color": "black", "font": "Liberation Sans"},
"encoding": {"x": {"field": "at", "type": "quantitative"}, "y": {"field": "lane", "type": "quantitative"}, "text": {"field": "label"}}},
{"data": {"values": [{"label": "YFR035C", "at": 226465.6, "lane": 2}]},
"mark": {"type": "text", "align": "left", "dx": 3.5, "fontSize": 11, "baseline": "middle", "color": "black", "font": "Liberation Sans"},
"encoding": {"x": {"field": "at", "type": "quantitative"}, "y": {"field": "lane", "type": "quantitative"}, "text": {"field": "label"}}}
]
},
{
"width": 596, "height": 84,
"data": {"values": "p,r,f\n226170,1,1\n226173,4,1\n226179,2,1\n226185,1,1\n226215,2,1\n226218,1,1\n226221,1,1\n226224,1,2\n226226,1,3\n226228,1,1\n226230,1,3\n226233,1,3\n226236,1,1\n226242,2,1\n226245,2,1\n226254,3,1\n226264,3,1\n226269,2,1\n226290,1,1\n226296,1,1\n226300,2,1\n226312,12,1\n226318,1,1\n226324,2,1\n226327,1,1\n226336,1,1\n226342,10,1\n226345,1,2\n226351,2,1\n226354,3,1\n226357,4,1\n226360,8,1\n226366,4,1\n226372,3,1\n226378,32,1\n226382,6,1\n226384,3,1\n226387,17,1\n226390,2,1\n226396,4,1\n226398,4,1\n226408,1,1\n226420,1,1\n226423,8,1\n226429,1,2\n226430,2,2\n226432,4,1\n226435,1,1\n226444,1,1\n226447,2,1\n226450,12,1\n226454,6,1\n226456,2,1\n226465,33,1\n226491,31,3\n226522,1,1", "format": {"type": "csv", "parse": {"p": "number", "r": "number", "f": "string"}}},
"layer": [
{"mark": {"type": "bar", "width": 0.9, "opacity": 0.5, "orient": "vertical"},
"encoding": {
"x": {"field": "p", "type": "quantitative", "scale": {"domain": [226100, 226572], "nice": false, "zero": false}, "axis": {"values": [226100, 226200, 226300, 226400, 226500], "format": "d", "labelFontSize": 12, "labelColor": "#4d4d4d", "labelPadding": 5, "tickSize": 4, "tickColor": "#333333", "domainColor": "black", "domainWidth": 1.2, "title": "Chr VI position", "titleFontSize": 12, "titleColor": "black", "titlePadding": 5}},
"y": {"field": "r", "type": "quantitative", "scale": {"type": "symlog", "constant": 1, "domain": [0, 64], "reverse": true, "nice": false}, "axis": {"values": [0, 10], "format": "d", "labelFontSize": 11.5, "labelColor": "#4d4d4d", "labelPadding": 4, "tickSize": 4, "tickColor": "#333333", "domainColor": "black", "domainWidth": 1.2, "title": null}},
"color": {"field": "f", "type": "nominal", "scale": {"domain": ["1", "2", "3"], "range": ["#000000", "#ff0000", "#0000ff"]}, "legend": null}}},
{"mark": {"type": "rule", "color": "black", "strokeWidth": 1.5}, "encoding": {"y": {"datum": 0}}}
]
},
{
"width": 592, "height": 166,
"transform": [{"filter": "datum.g == 1"}],
"title": {"text": "YFR035W-A", "anchor": "middle", "frame": "group", "dx": -50, "dy": 82, "offset": 0, "baseline": "alphabetic", "fontSize": 17, "fontWeight": "normal", "color": "black", "font": "Liberation Sans"},
"encoding": {
"x": {"field": "p", "type": "ordinal", "scale": {"range": [-3, 592], "paddingInner": 0, "paddingOuter": 0}, "axis": {"values": [10, 20, 30, 40], "labelAngle": 0, "domain": false, "ticks": false, "tickSize": 0, "labelFontSize": 13.5, "labelColor": "#4d4d4d", "labelPadding": 8, "title": null}},
"y": {"field": "s", "type": "ordinal", "scale": {"range": [70.4, 166], "paddingInner": 0, "paddingOuter": 0}, "axis": {"labelExpr": "['','S. cerevisiae','S. paradoxus','S. mikatae','S. jurei','S. kudriavzevii','S. arboricolus','S. uvarum','S. eubayanus'][datum.value]", "domain": false, "ticks": false, "tickSize": 0, "labelFontSize": 13.5, "labelColor": "#4d4d4d", "labelPadding": 10.7, "title": "B", "titleAngle": 0, "titleX": -98, "titleY": 64, "titleAlign": "left", "titleBaseline": "alphabetic", "titleFontSize": 15, "titleFontWeight": "bold", "titleColor": "black"}}
},
"layer": [
{"mark": {"type": "rect", "stroke": "#d9d9d9", "strokeWidth": 0.8}, "encoding": {"fill": {"field": "a", "type": "nominal", "scale": {"domain": ["A", "V", "L", "I", "M", "P", "G", "F", "Y", "W", "S", "T", "N", "Q", "C", "K", "R", "H", "D", "E", "-", "X"], "range": ["#f2b43c", "#f2b43c", "#f2b43c", "#f2b43c", "#f2b43c", "#f2b43c", "#f2b43c", "#f7f065", "#f7f065", "#f7f065", "#6cc38f", "#6cc38f", "#6cc38f", "#6cc38f", "#6cc38f", "#6c8fc8", "#6c8fc8", "#6c8fc8", "#f2606a", "#f2606a", "#ffffff", "#ffffff"]}, "legend": null}}},
{"transform": [{"filter": "datum.a != '-'"}], "mark": {"type": "text", "font": "DejaVu Sans Mono", "baseline": "middle", "color": "#262626"}, "encoding": {"text": {"field": "a", "type": "nominal"}, "size": {"condition": {"test": "datum.a == 'W' || datum.a == 'Q'", "value": 12}, "value": 15}}},
{"transform": [{"filter": "datum.a == '-'"}], "mark": {"type": "text", "text": "—", "font": "DejaVu Sans Mono", "fontSize": 16, "fontWeight": "bold", "baseline": "middle", "color": "#333333"}}
]
},
{
"width": 592, "height": 164,
"transform": [{"filter": "datum.g == 2"}],
"title": {"text": "YFR035W-A", "anchor": "middle", "frame": "group", "dx": -50, "dy": 79, "offset": 0, "baseline": "alphabetic", "fontSize": 17, "fontWeight": "normal", "color": "black", "font": "Liberation Sans"},
"encoding": {
"x": {"field": "p", "type": "ordinal", "scale": {"range": [-3, 592], "paddingInner": 0, "paddingOuter": 0}, "axis": {"values": [50, 60, 70, 80, 90], "labelAngle": 0, "domain": false, "ticks": false, "tickSize": 0, "labelFontSize": 13.5, "labelColor": "#4d4d4d", "labelPadding": 8, "title": null}},
"y": {"field": "s", "type": "ordinal", "scale": {"range": [67, 164], "paddingInner": 0, "paddingOuter": 0}, "axis": {"labelExpr": "['','S. cerevisiae','S. paradoxus','S. mikatae','S. jurei','S. kudriavzevii','S. arboricolus','S. uvarum','S. eubayanus'][datum.value]", "domain": false, "ticks": false, "tickSize": 0, "labelFontSize": 13.5, "labelColor": "#4d4d4d", "labelPadding": 10.7, "title": null}}
},
"layer": [
{"mark": {"type": "rect", "stroke": "#d9d9d9", "strokeWidth": 0.8}, "encoding": {"fill": {"field": "a", "type": "nominal", "scale": {"domain": ["A", "V", "L", "I", "M", "P", "G", "F", "Y", "W", "S", "T", "N", "Q", "C", "K", "R", "H", "D", "E", "-", "X"], "range": ["#f2b43c", "#f2b43c", "#f2b43c", "#f2b43c", "#f2b43c", "#f2b43c", "#f2b43c", "#f7f065", "#f7f065", "#f7f065", "#6cc38f", "#6cc38f", "#6cc38f", "#6cc38f", "#6cc38f", "#6c8fc8", "#6c8fc8", "#6c8fc8", "#f2606a", "#f2606a", "#ffffff", "#ffffff"]}, "legend": null}}},
{"transform": [{"filter": "datum.a != '-'"}], "mark": {"type": "text", "font": "DejaVu Sans Mono", "baseline": "middle", "color": "#262626"}, "encoding": {"text": {"field": "a", "type": "nominal"}, "size": {"condition": {"test": "datum.a == 'W' || datum.a == 'Q'", "value": 12}, "value": 15}}},
{"transform": [{"filter": "datum.a == '-'"}], "mark": {"type": "text", "text": "—", "font": "DejaVu Sans Mono", "fontSize": 16, "fontWeight": "bold", "baseline": "middle", "color": "#333333"}}
]
},
{
"width": 592, "height": 165,
"transform": [{"filter": "datum.g == 3"}],
"title": {"text": "YFR035C", "anchor": "middle", "frame": "group", "dx": -50, "dy": 79, "offset": 0, "baseline": "alphabetic", "fontSize": 17, "fontWeight": "normal", "color": "black", "font": "Liberation Sans"},
"encoding": {
"x": {"field": "p", "type": "ordinal", "scale": {"range": [-7, 590], "paddingInner": 0, "paddingOuter": 0}, "axis": {"values": [10, 20, 30, 40], "labelAngle": 0, "domain": false, "ticks": false, "tickSize": 0, "labelFontSize": 13.5, "labelColor": "#4d4d4d", "labelPadding": 8, "title": null}},
"y": {"field": "s", "type": "ordinal", "scale": {"range": [67.3, 165], "paddingInner": 0, "paddingOuter": 0}, "axis": {"labelExpr": "['','S.cerevisiae','S.paradoxus','S.mikatae','S.jurei','S.kudriavzevii','S.arboricolus','S.uvarum','S.eubayanus'][datum.value]", "domain": false, "ticks": false, "tickSize": 0, "labelFontSize": 13.5, "labelColor": "#4d4d4d", "labelPadding": 15, "title": "C", "titleAngle": 0, "titleX": -98, "titleY": 61, "titleAlign": "left", "titleBaseline": "alphabetic", "titleFontSize": 15, "titleFontWeight": "bold", "titleColor": "black"}}
},
"layer": [
{"mark": {"type": "rect", "stroke": "#d9d9d9", "strokeWidth": 0.8}, "encoding": {"fill": {"field": "a", "type": "nominal", "scale": {"domain": ["A", "V", "L", "I", "M", "P", "G", "F", "Y", "W", "S", "T", "N", "Q", "C", "K", "R", "H", "D", "E", "-", "X"], "range": ["#f2b43c", "#f2b43c", "#f2b43c", "#f2b43c", "#f2b43c", "#f2b43c", "#f2b43c", "#f7f065", "#f7f065", "#f7f065", "#6cc38f", "#6cc38f", "#6cc38f", "#6cc38f", "#6cc38f", "#6c8fc8", "#6c8fc8", "#6c8fc8", "#f2606a", "#f2606a", "#ffffff", "#ffffff"]}, "legend": null}}},
{"transform": [{"filter": "datum.a != '-'"}], "mark": {"type": "text", "font": "DejaVu Sans Mono", "baseline": "middle", "color": "#262626"}, "encoding": {"text": {"field": "a", "type": "nominal"}, "size": {"condition": {"test": "datum.a == 'W' || datum.a == 'Q'", "value": 12}, "value": 15}}},
{"transform": [{"filter": "datum.a == '-'"}], "mark": {"type": "text", "text": "—", "font": "DejaVu Sans Mono", "fontSize": 16, "fontWeight": "bold", "baseline": "middle", "color": "#333333"}}
]
},
{
"width": 592, "height": 165,
"transform": [{"filter": "datum.g == 4"}],
"title": {"text": "YFR035C", "anchor": "middle", "frame": "group", "dx": -50, "dy": 81, "offset": 0, "baseline": "alphabetic", "fontSize": 17, "fontWeight": "normal", "color": "black", "font": "Liberation Sans"},
"encoding": {
"x": {"field": "p", "type": "ordinal", "scale": {"range": [-7, 590], "paddingInner": 0, "paddingOuter": 0}, "axis": {"values": [50, 60, 70, 80, 90], "labelAngle": 0, "domain": false, "ticks": false, "tickSize": 0, "labelFontSize": 13.5, "labelColor": "#4d4d4d", "labelPadding": 7, "title": null}},
"y": {"field": "s", "type": "ordinal", "scale": {"range": [66.7, 165], "paddingInner": 0, "paddingOuter": 0}, "axis": {"labelExpr": "['','S.cerevisiae','S.paradoxus','S.mikatae','S.jurei','S.kudriavzevii','S.arboricolus','S.uvarum','S.eubayanus'][datum.value]", "domain": false, "ticks": false, "tickSize": 0, "labelFontSize": 13.5, "labelColor": "#4d4d4d", "labelPadding": 15, "title": null}}
},
"layer": [
{"mark": {"type": "rect", "stroke": "#d9d9d9", "strokeWidth": 0.8}, "encoding": {"fill": {"field": "a", "type": "nominal", "scale": {"domain": ["A", "V", "L", "I", "M", "P", "G", "F", "Y", "W", "S", "T", "N", "Q", "C", "K", "R", "H", "D", "E", "-", "X"], "range": ["#f2b43c", "#f2b43c", "#f2b43c", "#f2b43c", "#f2b43c", "#f2b43c", "#f2b43c", "#f7f065", "#f7f065", "#f7f065", "#6cc38f", "#6cc38f", "#6cc38f", "#6cc38f", "#6cc38f", "#6c8fc8", "#6c8fc8", "#6c8fc8", "#f2606a", "#f2606a", "#ffffff", "#ffffff"]}, "legend": null}}},
{"transform": [{"filter": "datum.a != '-'"}], "mark": {"type": "text", "font": "DejaVu Sans Mono", "baseline": "middle", "color": "#262626"}, "encoding": {"text": {"field": "a", "type": "nominal"}, "size": {"condition": {"test": "datum.a == 'W' || datum.a == 'Q'", "value": 12}, "value": 15}}},
{"transform": [{"filter": "datum.a == '-'"}], "mark": {"type": "text", "text": "—", "font": "DejaVu Sans Mono", "fontSize": 16, "fontWeight": "bold", "baseline": "middle", "color": "#333333"}}
]
}
]
}
